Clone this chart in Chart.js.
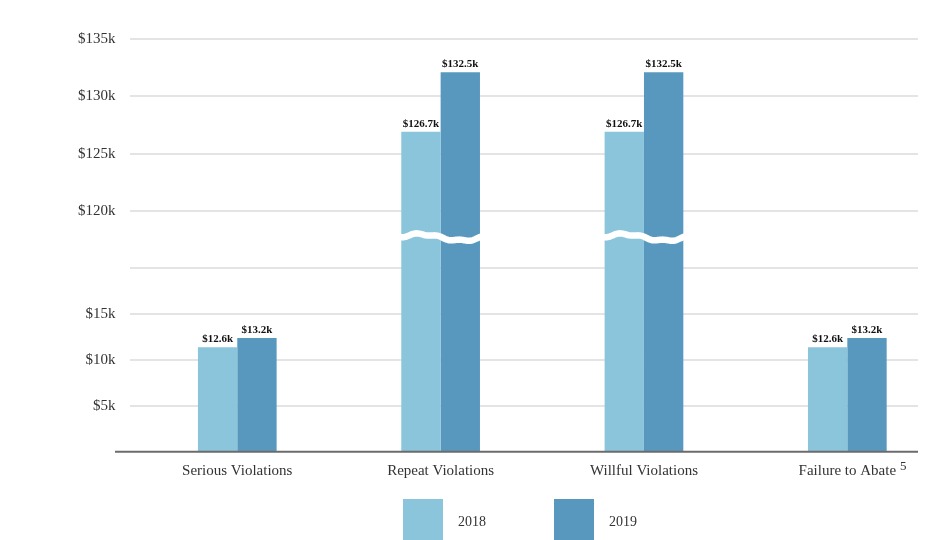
<!DOCTYPE html>
<html>
<head>
<meta charset="utf-8">
<script src="https://cdn.jsdelivr.net/npm/chart.js@4.4.1/dist/chart.umd.min.js"></script>
<style>
    html, body { margin: 0; padding: 0; background: #fff; overflow: hidden; }
    #chart { display: block; }
</style>
</head>
<body>
<canvas id="chart" width="960" height="540"></canvas>
<script>
const categories = ['Serious Violations', 'Repeat Violations', 'Willful Violations', 'Failure to Abate'];
const years = ['2018', '2019'];
const values2018 = [11400, 126900, 126900, 11400];
const values2019 = [12400, 132100, 132100, 12400];
const valueLabels2018 = ['$12.6k', '$126.7k', '$126.7k', '$12.6k'];
const valueLabels2019 = ['$13.2k', '$132.5k', '$132.5k', '$13.2k'];
const yTicks = [0, 5000, 10000, 15000, 20000, 120000, 125000, 130000, 135000];
const yTickLabels = ['', '$5k', '$10k', '$15k', '', '$120k', '$125k', '$130k', '$135k'];
const footnote = '5';

const colors = ['#8bc5db', '#5898bf'];
const serif = '"Liberation Serif", "Times New Roman", serif';

// y axis is cut between LOW_MAX and HIGH_MIN
const LOW_MAX = 20000;
const HIGH_MIN = 115000;
const LOW_SHARE = 0.4444;
const BREAK_AT = 117700;

const LinearScale = Chart.LinearScale || Chart.registry.getScale('linear');

class BrokenScale extends LinearScale {
    getPixelForValue(value) {
        if (value === null || isNaN(value)) return NaN;
        let dec;
        if (value <= LOW_MAX) {
            dec = value / LOW_MAX * LOW_SHARE;
        } else if (value >= HIGH_MIN) {
            dec = LOW_SHARE + (value - HIGH_MIN) / (this.max - HIGH_MIN) * (1 - LOW_SHARE);
        } else {
            dec = LOW_SHARE;
        }
        return this.getPixelForDecimal(dec);
    }
}
BrokenScale.id = 'broken';
BrokenScale.defaults = LinearScale.defaults;
Chart.register(BrokenScale);

const valueLabels = [valueLabels2018, valueLabels2019];

const decorations = {
    id: 'decorations',
    beforeDatasetsDraw(chart) {
        const ctx = chart.ctx;
        const y = chart.scales.y;
        ctx.save();
        ctx.strokeStyle = '#e4e4e4';
        ctx.lineWidth = 2;
        y.ticks.forEach((t, i) => {
            if (t.value === 0) return;
            const py = Math.round(y.getPixelForTick(i));
            ctx.beginPath();
            ctx.moveTo(130, py);
            ctx.lineTo(918, py);
            ctx.stroke();
        });
        ctx.restore();
    },
    afterDatasetsDraw(chart) {
        const ctx = chart.ctx;
        const y = chart.scales.y;
        const x = chart.scales.x;
        ctx.save();

        // break marks across the tall bars
        const m0 = chart.getDatasetMeta(0);
        const m1 = chart.getDatasetMeta(1);
        const by = y.getPixelForValue(BREAK_AT);
        categories.forEach((c, i) => {
            if (values2018[i] <= LOW_MAX && values2019[i] <= LOW_MAX) return;
            const b0 = m0.data[i], b1 = m1.data[i];
            const x0 = b0.x - b0.width / 2 - 2;
            const x1 = b1.x + b1.width / 2 + 2;
            ctx.beginPath();
            for (let px = x0; px <= x1; px += 1) {
                const t = (px - x0) / (x1 - x0);
                const py = by - Math.sin(t * Math.PI * 2) * 3.2 + Math.sin((px - x0) / 3.5) * 0.9;
                if (px === x0) ctx.moveTo(px, py); else ctx.lineTo(px, py);
            }
            ctx.strokeStyle = '#ffffff';
            ctx.lineWidth = 6.5;
            ctx.stroke();
        });

        // value labels
        ctx.fillStyle = '#111';
        ctx.font = 'bold 11px ' + serif;
        ctx.textAlign = 'center';
        ctx.textBaseline = 'alphabetic';
        [m0, m1].forEach((meta, d) => {
            meta.data.forEach((bar, i) => {
                ctx.fillText(valueLabels[d][i], bar.x, bar.y - 5);
            });
        });

        // x axis line
        const zy = y.getPixelForValue(0);
        ctx.strokeStyle = '#6b6b6b';
        ctx.lineWidth = 2;
        ctx.beginPath();
        ctx.moveTo(115, zy);
        ctx.lineTo(918, zy);
        ctx.stroke();

        // footnote after last category label
        ctx.font = '15px ' + serif;
        const last = categories.length - 1;
        const w = ctx.measureText(categories[last]).width;
        ctx.font = '13px ' + serif;
        ctx.fillStyle = '#333';
        ctx.textAlign = 'left';
        ctx.textBaseline = 'middle';
        ctx.fillText(footnote, x.getPixelForTick(last) + w / 2 + 4, zy + 15);

        // legend
        ctx.font = '14px ' + serif;
        ctx.textBaseline = 'middle';
        years.forEach((yr, i) => {
            const lx = 403 + i * 151;
            ctx.fillStyle = colors[i];
            ctx.fillRect(lx, 499, 40, 42);
            ctx.fillStyle = '#333';
            ctx.fillText(yr, lx + 55, 522);
        });
        ctx.restore();
    }
};

new Chart(document.getElementById('chart'), {
    type: 'bar',
    data: {
        labels: categories,
        datasets: [
            { label: years[0], data: values2018, backgroundColor: colors[0] },
            { label: years[1], data: values2019, backgroundColor: colors[1] }
        ]
    },
    options: {
        responsive: false,
        animation: false,
        layout: { padding: { top: 39, right: 11, left: 0, bottom: 0 } },
        datasets: {
            bar: { barPercentage: 1, categoryPercentage: 0.387 }
        },
        plugins: {
            legend: { display: false },
            tooltip: { enabled: false }
        },
        scales: {
            x: {
                grid: { display: false, drawTicks: false },
                border: { display: false },
                ticks: {
                    color: '#333',
                    font: { family: serif, size: 15 },
                    padding: 10,
                    maxRotation: 0,
                    autoSkip: false
                },
                afterFit: (s) => { s.height = 88.3; }
            },
            y: {
                type: 'broken',
                min: 0,
                max: 135000,
                grid: { display: false, drawTicks: false },
                border: { display: false },
                afterBuildTicks: (s) => { s.ticks = yTicks.map(v => ({ value: v })); },
                ticks: {
                    autoSkip: false,
                    color: '#333',
                    font: { family: serif, size: 15 },
                    padding: 20,
                    callback: (v) => yTickLabels[yTicks.indexOf(v)]
                },
                afterFit: (s) => { s.width = 135.6; }
            }
        }
    },
    plugins: [decorations]
});
</script>
</body>
</html>
